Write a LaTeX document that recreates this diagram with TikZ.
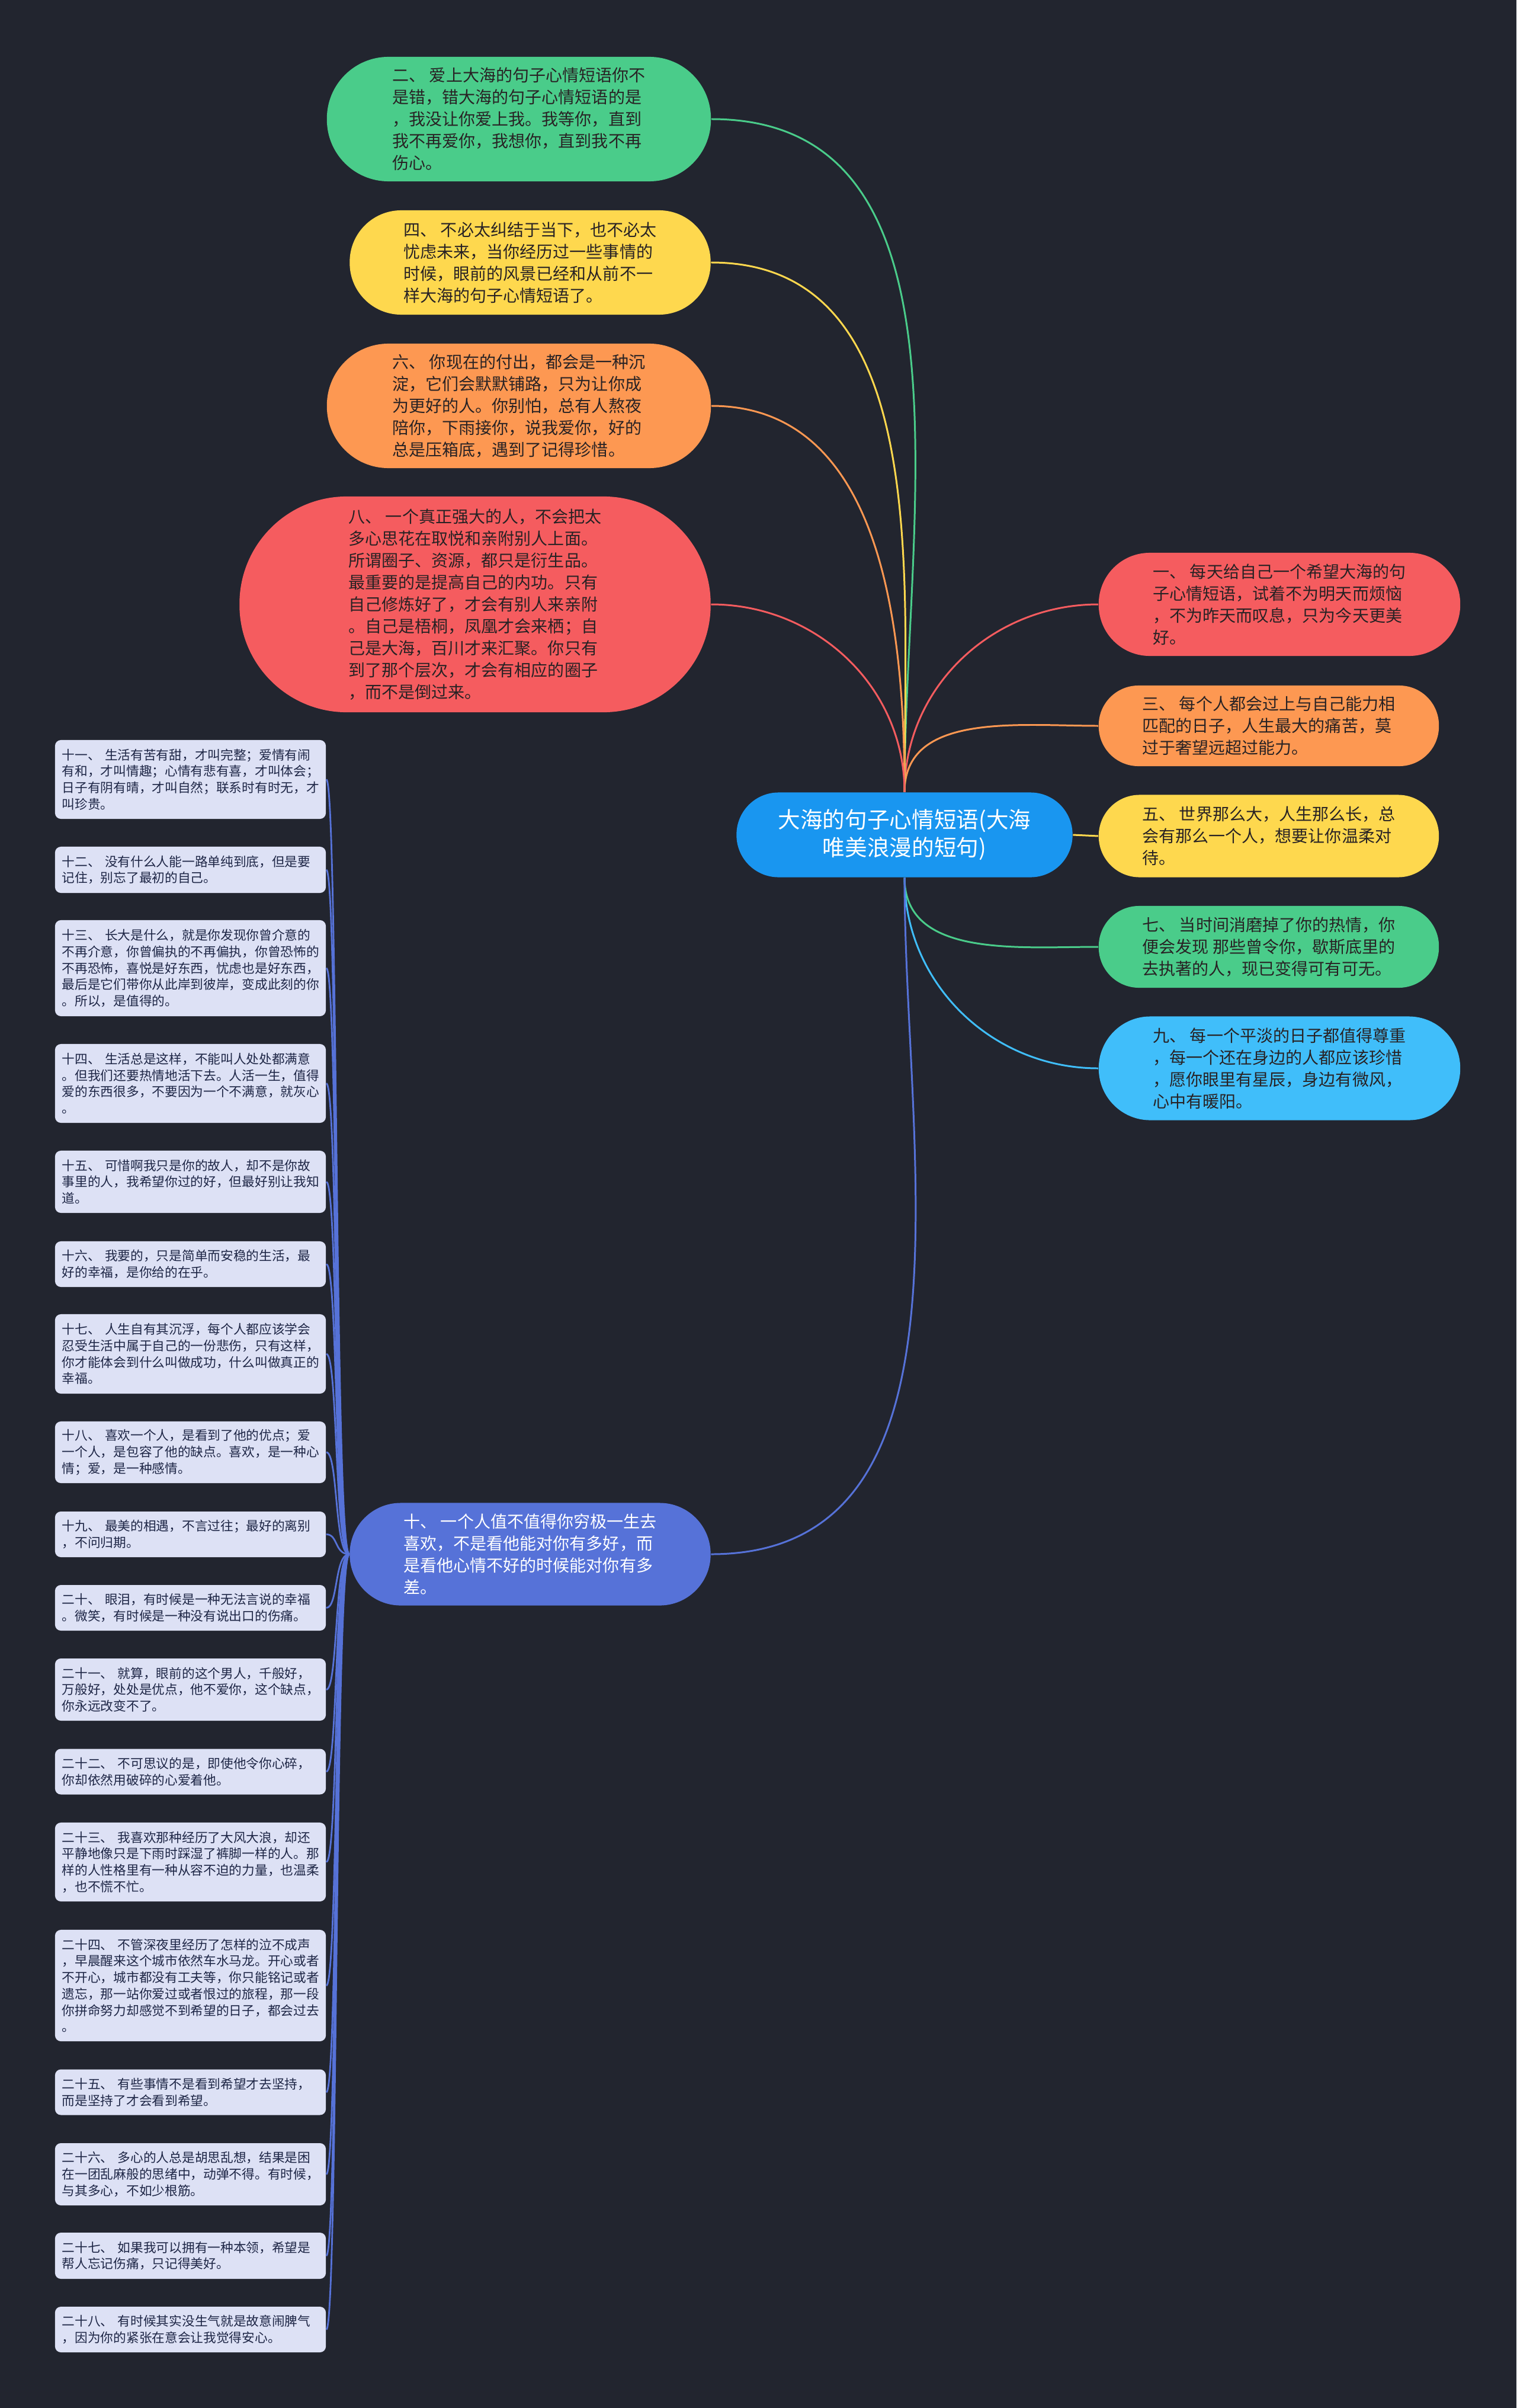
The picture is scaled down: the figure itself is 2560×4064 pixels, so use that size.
\documentclass[tikz,border=0pt]{standalone}
\usepackage{fontspec}
\setmainfont{Noto Sans CJK SC}
\definecolor{bg}{RGB}{34,37,47}
\definecolor{cgreen}{RGB}{74,204,138}
\definecolor{cyellow}{RGB}{254,216,78}
\definecolor{corange}{RGB}{253,152,82}
\definecolor{cred}{RGB}{245,92,95}
\definecolor{cblue}{RGB}{25,150,240}
\definecolor{clblue}{RGB}{64,190,250}
\definecolor{cpurple}{RGB}{86,114,216}
\definecolor{leafbg}{RGB}{221,225,245}
\definecolor{leaftxt}{RGB}{30,38,70}
\definecolor{txtdark}{RGB}{40,34,36}
\newcommand\myBigFont{\fontsize{7.97pt}{10.53pt}\selectfont}
\newcommand\myLeafFont{\fontsize{6.17pt}{7.88pt}\selectfont}
\newcommand\myCenterFont{\fontsize{10.7pt}{13.4pt}\selectfont}
\begin{document}
\begin{tikzpicture}[x=0.01cm,y=-0.01cm,
  big/.style={inner sep=0pt, align=left, font=\myBigFont, text=txtdark},
  leaf/.style={fill=leafbg, rounded corners=0.1cm, text width=4.33cm, inner xsep=0.12cm, inner ysep=0pt, align=left, font=\myLeafFont, text=leaftxt},
  conn/.style={line width=0.85pt},
  leafto/.style={out=180, in=0, out distance=0.25cm, in distance=0.2cm},
  leafconn/.style={line width=0.8pt, draw=cpurple}]
\fill[bg] (0,0) rectangle (2560,4064);
\useasboundingbox (0,0) rectangle (2560,4064);

% center
\node[fill=cblue, inner sep=0pt, minimum width=5.67cm, minimum height=1.43cm, rounded corners=0.71cm, align=center, font=\myCenterFont, text=white] (c) at (1527,1409) {大海的句子心情短语(大海\\唯美浪漫的短句)};

% left upper
\node[big, fill=cgreen, minimum width=6.48cm, minimum height=2.10cm, rounded corners=1.04cm] (n2) at (876,201) {二、 爱上大海的句子心情短语你不\\是错，错大海的句子心情短语的是\\，我没让你爱上我。我等你，直到\\我不再爱你，我想你，直到我不再\\伤心。};
\node[big, fill=cyellow, minimum width=6.09cm, minimum height=1.76cm, rounded corners=0.87cm] (n4) at (895,443) {四、 不必太纠结于当下，也不必太\\忧虑未来，当你经历过一些事情的\\时候，眼前的风景已经和从前不一\\样大海的句子心情短语了。};
\node[big, fill=corange, minimum width=6.48cm, minimum height=2.10cm, rounded corners=1.04cm] (n6) at (876,685) {六、 你现在的付出，都会是一种沉\\淀，它们会默默铺路，只为让你成\\为更好的人。你别怕，总有人熬夜\\陪你，下雨接你，说我爱你，好的\\总是压箱底，遇到了记得珍惜。};
\node[big, fill=cred, minimum width=7.95cm, minimum height=3.64cm, rounded corners=1.81cm] (n8) at (802,1020) {八、 一个真正强大的人，不会把太\\多心思花在取悦和亲附别人上面。\\所谓圈子、资源，都只是衍生品。\\最重要的是提高自己的内功。只有\\自己修炼好了，才会有别人来亲附\\。自己是梧桐，凤凰才会来栖；自\\己是大海，百川才来汇聚。你只有\\到了那个层次，才会有相应的圈子\\，而不是倒过来。};

% right
\node[big, fill=cred, minimum width=6.10cm, minimum height=1.74cm, rounded corners=0.86cm] (n1) at (2160,1020) {一、 每天给自己一个希望大海的句\\子心情短语，试着不为明天而烦恼\\，不为昨天而叹息，只为今天更美\\好。};
\node[big, fill=corange, minimum width=5.74cm, minimum height=1.36cm, rounded corners=0.67cm] (n3) at (2142,1225) {三、 每个人都会过上与自己能力相\\匹配的日子，人生最大的痛苦，莫\\过于奢望远超过能力。};
\node[big, fill=cyellow, minimum width=5.74cm, minimum height=1.39cm, rounded corners=0.69cm] (n5) at (2142,1411) {五、 世界那么大，人生那么长，总\\会有那么一个人，想要让你温柔对\\待。};
\node[big, fill=cgreen, minimum width=5.74cm, minimum height=1.38cm, rounded corners=0.68cm] (n7) at (2142,1598) {七、 当时间消磨掉了你的热情，你\\便会发现 那些曾令你，歇斯底里的\\去执著的人，现已变得可有可无。};
\node[big, fill=clblue, minimum width=6.10cm, minimum height=1.75cm, rounded corners=0.87cm] (n9) at (2160,1803) {九、 每一个平淡的日子都值得尊重\\，每一个还在身边的人都应该珍惜\\，愿你眼里有星辰，身边有微风，\\心中有暖阳。};

% node 10
\node[big, fill=cpurple, text=white, minimum width=6.09cm, minimum height=1.73cm, rounded corners=0.86cm] (n10) at (895,2623) {十、 一个人值不值得你穷极一生去\\喜欢，不是看他能对你有多好，而\\是看他心情不好的时候能对你有多\\差。};

% leaves
\node[leaf, minimum height=1.33cm] (l11) at (321.5,1315.5) {十一、~生活有苦有甜，才叫完整；爱情有闹\\有和，才叫情趣；心情有悲有喜，才叫体会；\\日子有阴有晴，才叫自然；联系时有时无，才\\叫珍贵。};
\node[leaf, minimum height=0.78cm] (l12) at (321.5,1468) {十二、~没有什么人能一路单纯到底，但是要\\记住，别忘了最初的自己。};
\node[leaf, minimum height=1.62cm] (l13) at (321.5,1634) {十三、~长大是什么，就是你发现你曾介意的\\不再介意，你曾偏执的不再偏执，你曾恐怖的\\不再恐怖，喜悦是好东西，忧虑也是好东西，\\最后是它们带你从此岸到彼岸，变成此刻的你\\。所以，是值得的。};
\node[leaf, minimum height=1.33cm] (l14) at (321.5,1828.5) {十四、~生活总是这样，不能叫人处处都满意\\。但我们还要热情地活下去。人活一生，值得\\爱的东西很多，不要因为一个不满意，就灰心\\。};
\node[leaf, minimum height=1.05cm] (l15) at (321.5,1994.5) {十五、~可惜啊我只是你的故人，却不是你故\\事里的人，我希望你过的好，但最好别让我知\\道。};
\node[leaf, minimum height=0.77cm] (l16) at (321.5,2133.5) {十六、~我要的，只是简单而安稳的生活，最\\好的幸福，是你给的在乎。};
\node[leaf, minimum height=1.34cm] (l17) at (321.5,2285) {十七、~人生自有其沉浮，每个人都应该学会\\忍受生活中属于自己的一份悲伤，只有这样，\\你才能体会到什么叫做成功，什么叫做真正的\\幸福。};
\node[leaf, minimum height=1.04cm] (l18) at (321.5,2451) {十八、~喜欢一个人，是看到了他的优点；爱\\一个人，是包容了他的缺点。喜欢，是一种心\\情；爱，是一种感情。};
\node[leaf, minimum height=0.77cm] (l19) at (321.5,2589.5) {十九、~最美的相遇，不言过往；最好的离别\\，不问归期。};
\node[leaf, minimum height=0.77cm] (l20) at (321.5,2713.5) {二十、~眼泪，有时候是一种无法言说的幸福\\。微笑，有时候是一种没有说出口的伤痛。};
\node[leaf, minimum height=1.05cm] (l21) at (321.5,2851.5) {二十一、~就算，眼前的这个男人，千般好，\\万般好，处处是优点，他不爱你，这个缺点，\\你永远改变不了。};
\node[leaf, minimum height=0.77cm] (l22) at (321.5,2990) {二十二、~不可思议的是，即使他令你心碎，\\你却依然用破碎的心爱着他。};
\node[leaf, minimum height=1.33cm] (l23) at (321.5,3142.5) {二十三、~我喜欢那种经历了大风大浪，却还\\平静地像只是下雨时踩湿了裤脚一样的人。那\\样的人性格里有一种从容不迫的力量，也温柔\\，也不慌不忙。};
\node[leaf, minimum height=1.88cm] (l24) at (321.5,3351) {二十四、~不管深夜里经历了怎样的泣不成声\\，早晨醒来这个城市依然车水马龙。开心或者\\不开心，城市都没有工夫等，你只能铭记或者\\遗忘，那一站你爱过或者恨过的旅程，那一段\\你拼命努力却感觉不到希望的日子，都会过去\\。};
\node[leaf, minimum height=0.77cm] (l25) at (321.5,3531) {二十五、~有些事情不是看到希望才去坚持，\\而是坚持了才会看到希望。};
\node[leaf, minimum height=1.05cm] (l26) at (321.5,3669.5) {二十六、~多心的人总是胡思乱想，结果是困\\在一团乱麻般的思绪中，动弹不得。有时候，\\与其多心，不如少根筋。};
\node[leaf, minimum height=0.78cm] (l27) at (321.5,3807) {二十七、~如果我可以拥有一种本领，希望是\\帮人忘记伤痛，只记得美好。};
\node[leaf, minimum height=0.77cm] (l28) at (321.5,3931.5) {二十八、~有时候其实没生气就是故意闹脾气\\，因为你的紧张在意会让我觉得安心。};

% connectors from center
\draw[conn, cred] (c.north) to[out=90, in=180] (n1.west);
\draw[conn, corange] (c.north) to[out=90, in=180] (n3.west);
\draw[conn, cyellow] (c.east) -- (n5.west);
\draw[conn, cgreen] (c.south) to[out=-90, in=180] (n7.west);
\draw[conn, clblue] (c.south) to[out=-90, in=180] (n9.west);
\draw[conn, cgreen] (c.north) to[out=90, in=0] (n2.east);
\draw[conn, cyellow] (c.north) to[out=90, in=0] (n4.east);
\draw[conn, corange] (c.north) to[out=90, in=0] (n6.east);
\draw[conn, cred] (c.north) to[out=90, in=0] (n8.east);
\draw[conn, cpurple] (c.south) to[out=-90, in=0] (n10.east);

% connectors to leaves
\foreach \l in {l11,l12,l13,l14,l15,l16,l17,l18,l19,l20,l21,l22,l23,l24,l25,l26,l27,l28}
  \draw[leafconn] (n10.west) to[leafto] (\l.east);
\end{tikzpicture}
\end{document}
